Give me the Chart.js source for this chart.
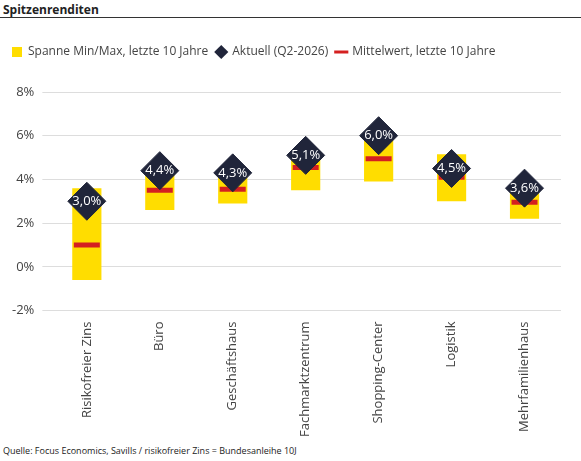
<!DOCTYPE html>
<html><head><meta charset="utf-8">
<script src="https://cdn.jsdelivr.net/npm/chart.js@4/dist/chart.umd.min.js"></script>
<style>
body{margin:0;background:#fff;font-family:"Open Sans",sans-serif;width:581px;height:461px;overflow:hidden}
#t{position:absolute;left:3px;top:1px;font-weight:bold;font-size:12px;color:#222}
#ln{position:absolute;left:0;top:17px;width:581px;border-top:1px solid #333}
#w{position:absolute;left:0;top:38px;width:581px;height:402px}
#q{position:absolute;left:3px;top:444px;font-size:9px;color:#222}
</style></head><body>
<div id="t">Spitzenrenditen</div><div id="ln"></div>
<div id="w"><canvas id="c"></canvas></div>
<div id="q">Quelle: Focus Economics, Savills / risikofreier Zins = Bundesanleihe 10J</div>
<script>
const kategorien = ["Risikofreier Zins","Büro","Geschäftshaus","Fachmarktzentrum","Shopping-Center","Logistik","Mehrfamilienhaus"];
const minWerte = [-0.6,2.6,2.9,3.5,3.9,3.0,2.2];
const maxWerte = [3.6,4.4,4.3,5.1,6.0,5.15,3.6];
const aktuell  = [3.0,4.4,4.3,5.1,6.0,4.5,3.6];
const mittel   = [1.0,3.5,3.55,4.55,4.95,4.1,2.95];

const fmt = v => v.toFixed(1).replace(".",",")+"%";

const labelPlugin = {
  id:"lbl",
  beforeInit(chart){
    const fit = chart.legend.fit;
    chart.legend.fit = function(){ fit.bind(chart.legend)(); this.height += 24; };
  },
  afterDatasetsDraw(chart){
    const meta = chart.getDatasetMeta(2);
    const c = chart.ctx;
    c.save();
    c.fillStyle="#fff"; c.font="13px 'Open Sans'"; c.textAlign="center"; c.textBaseline="middle";
    meta.data.forEach((p,i)=>c.fillText(fmt(aktuell[i]),p.x,p.y));
    c.restore();
  }
};

new Chart(document.getElementById("c"),{
  data:{
    labels:kategorien,
    datasets:[
      {type:"bar",label:"Spanne Min/Max, letzte 10 Jahre",data:minWerte.map((v,i)=>[v,maxWerte[i]]),
       backgroundColor:"#ffdd00",barPercentage:0.4,categoryPercentage:1,pointStyle:"rect",order:3},
      {type:"line",label:"Mittelwert, letzte 10 Jahre",data:mittel,showLine:false,pointStyle:"line",
       pointRadius:13,pointBorderWidth:5,borderColor:"#d42020",backgroundColor:"#d42020",order:2},
      {type:"line",label:"Aktuell (Q2-2026)",data:aktuell,showLine:false,pointStyle:"rectRot",
       pointRadius:19,pointHoverRadius:19,backgroundColor:"#20253a",borderColor:"#20253a",order:1}
    ]
  },
  options:{
    responsive:true,maintainAspectRatio:false,animation:false,
    layout:{padding:{right:6,left:4}},
    plugins:{
      legend:{position:"top",align:"start",
        labels:{usePointStyle:true,color:"#444",font:{size:12,family:"'Open Sans'"},boxWidth:10,boxHeight:10,padding:8,
          generateLabels(chart){
            return [0,2,1].map(i=>{
              const d=chart.data.datasets[i];
              return {text:d.label,fillStyle:i==2?"#20253a":d.backgroundColor,strokeStyle:i==2?"#20253a":d.borderColor||d.backgroundColor,
                lineWidth:i==1?3:0,pointStyle:d.pointStyle,datasetIndex:i,fontColor:"#444"};
            });
          }}},
      tooltip:{enabled:false}
    },
    scales:{
      x:{grid:{display:false},border:{display:false},
        ticks:{maxRotation:90,minRotation:90,color:"#444",font:{size:13,family:"'Open Sans'"}}},
      y:{min:-2,max:8,border:{display:false},grid:{color:"#ddd"},
        ticks:{stepSize:2,color:"#444",padding:8,font:{size:13,family:"'Open Sans'"},callback:v=>v+"%"}}
    }
  },
  plugins:[labelPlugin]
});
</script></body></html>
